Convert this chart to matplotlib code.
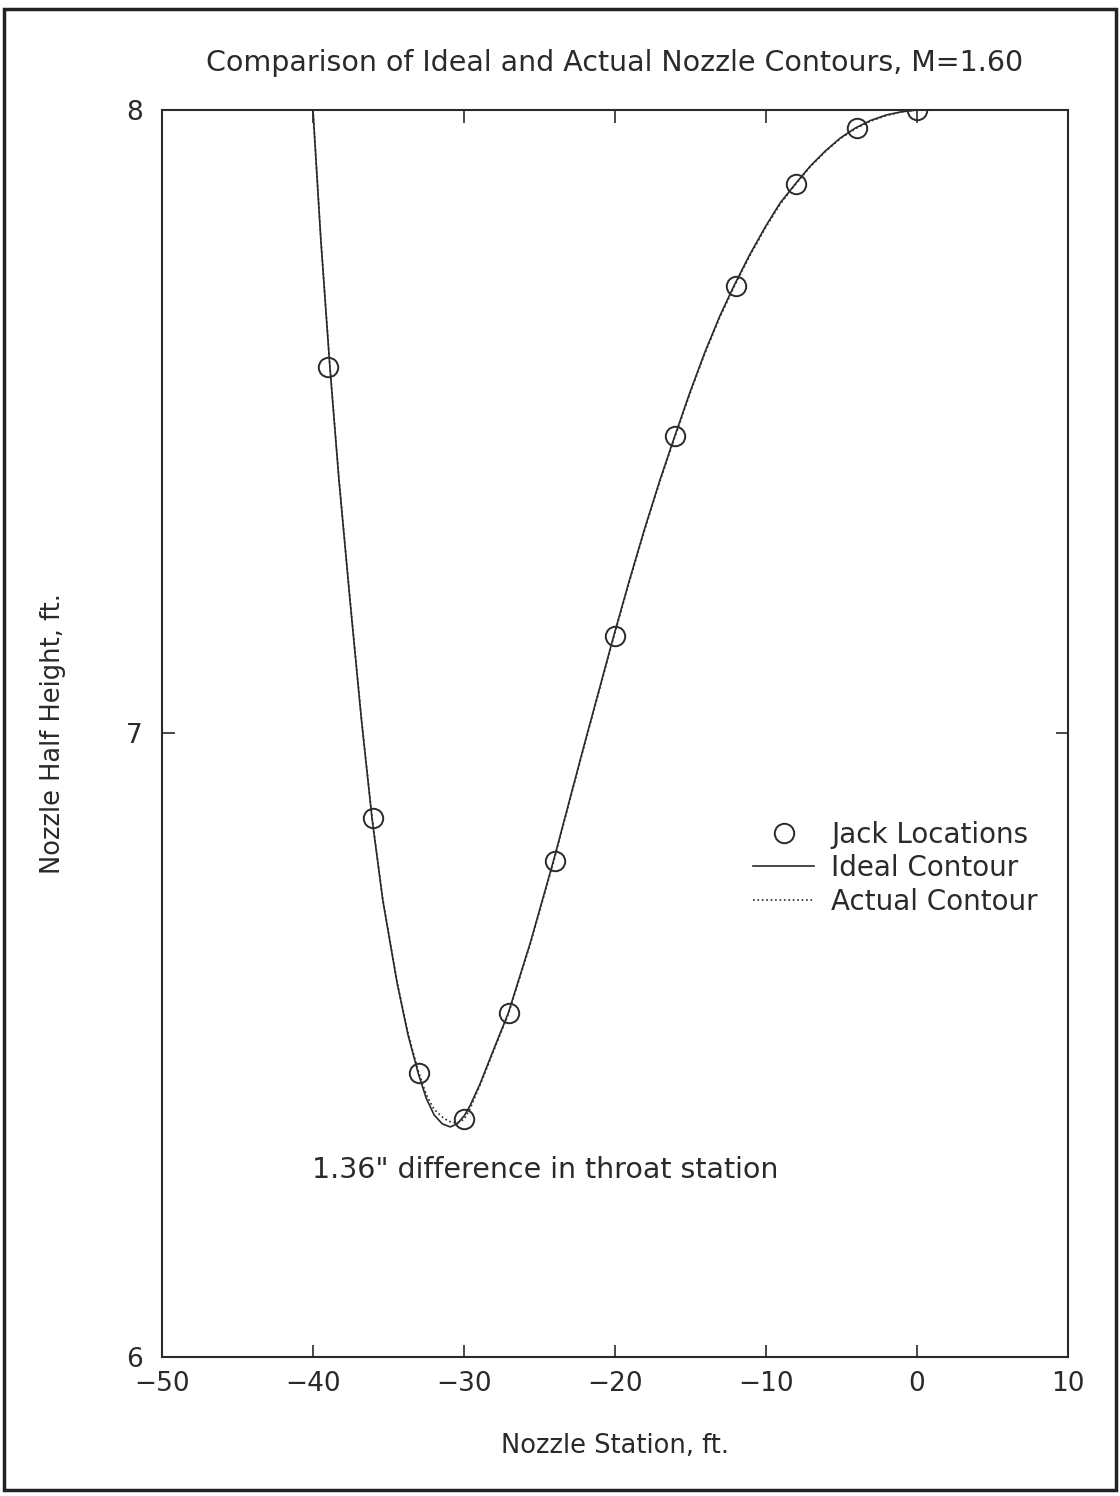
import matplotlib
matplotlib.use("Agg")
import matplotlib.pyplot as plt
from matplotlib.patches import Rectangle

plt.rcParams['font.family'] = ['DejaVu Sans']

# jack locations (ft)
jack_x = [-39, -36, -33, -30, -27, -24, -20, -16, -12, -8, -4, 0]
jack_y = [7.588, 6.864, 6.455, 6.382, 6.552, 6.796, 7.156, 7.477, 7.718, 7.881, 7.971, 8.000]

# ideal contour
ideal_x = [-40.0, -39.48, -38.88, -38.28, -37.55, -36.79, -36.09, -35.38, -34.43,
           -33.70, -33.03, -32.50, -31.97, -31.44, -30.91, -30.44, -29.98, -29.58,
           -28.92, -27.99, -27.06, -25.60, -24.07, -22.08, -20.09, -19.09, -18.03,
           -17.03, -16.04, -15.04, -14.04, -13.05, -12.12, -11.12, -10.06, -9.06,
           -8.07, -7.07, -6.08, -5.08, -4.08, -3.09, -2.03, -1.03, 0.0]
ideal_y = [8.000, 7.792, 7.588, 7.407, 7.214, 7.022, 6.864, 6.733, 6.600,
           6.516, 6.455, 6.415, 6.388, 6.374, 6.369, 6.374, 6.387, 6.404,
           6.439, 6.496, 6.552, 6.665, 6.796, 6.978, 7.156, 7.242, 7.329,
           7.406, 7.477, 7.547, 7.612, 7.670, 7.718, 7.766, 7.812, 7.851,
           7.881, 7.910, 7.934, 7.955, 7.971, 7.983, 7.992, 7.997, 8.000]

# actual contour, nearly the same; differs near the throat
actual_x = [-40.0, -39.48, -38.88, -38.28, -37.55, -36.79, -36.09, -35.38, -34.43,
            -33.70, -33.03, -32.50, -32.00, -31.50, -31.00, -30.50, -30.00, -29.60,
            -28.92, -27.99, -27.06, -25.60, -24.07, -22.08, -20.09, -19.09, -18.03,
            -17.03, -16.04, -15.04, -14.04, -13.05, -12.12, -11.12, -10.06, -9.06,
            -8.07, -7.07, -6.08, -5.08, -4.08, -3.09, -2.03, -1.03, 0.0]
actual_y = [8.000, 7.794, 7.590, 7.409, 7.217, 7.024, 6.866, 6.735, 6.602,
            6.519, 6.459, 6.421, 6.398, 6.386, 6.378, 6.375, 6.381, 6.398,
            6.437, 6.494, 6.550, 6.663, 6.794, 6.976, 7.154, 7.240, 7.327,
            7.404, 7.475, 7.545, 7.610, 7.668, 7.716, 7.764, 7.810, 7.849,
            7.880, 7.909, 7.933, 7.954, 7.970, 7.982, 7.991, 7.997, 8.000]

ink = '#2a2a2a'

fig = plt.figure(figsize=(11.2, 14.96), dpi=100)
ax = fig.add_axes([0.1446, 0.0929, 0.809, 0.8336])

ax.plot(actual_x, actual_y, ':', color=ink, lw=1.2, label='Actual Contour')
ax.plot(ideal_x, ideal_y, '-', color=ink, lw=1.2, label='Ideal Contour')
ax.plot(jack_x, jack_y, 'o', mfc='none', mec=ink, ms=14, mew=1.4, label='Jack Locations')

ax.set_xlim(-50, 10)
ax.set_ylim(6, 8)
ax.set_xticks([-50, -40, -30, -20, -10, 0, 10])
ax.set_yticks([6, 7, 8])
ax.tick_params(direction='in', length=9, width=1.2, colors=ink, labelsize=19,
               top=True, right=True, pad=10)
ax.tick_params(axis='y', pad=14)
for s in ax.spines.values():
    s.set_linewidth(1.5)
    s.set_color(ink)

ax.set_title("Comparison of Ideal and Actual Nozzle Contours, M=1.60",
             fontsize=20.5, color=ink, pad=28)
ax.set_xlabel("Nozzle Station, ft.", fontsize=18.5, color=ink, labelpad=26)
ax.set_ylabel("Nozzle Half Height, ft.", fontsize=18.5, color=ink, labelpad=43)

ax.text(-24.6, 6.30, '1.36" difference in throat station', fontsize=20.5,
        color=ink, ha='center', va='center')

h, l = ax.get_legend_handles_labels()
ax.legend(h[::-1], l[::-1], loc='center left', bbox_to_anchor=(0.625, 0.392),
          frameon=False, fontsize=20, handlelength=2.2, handletextpad=0.6,
          labelspacing=0.2, labelcolor=ink)

fig.add_artist(Rectangle((0.004, 0.004), 0.992, 0.99, transform=fig.transFigure,
                         fill=False, lw=2.5, ec='#222222'))

plt.savefig("out.png", dpi=100)
